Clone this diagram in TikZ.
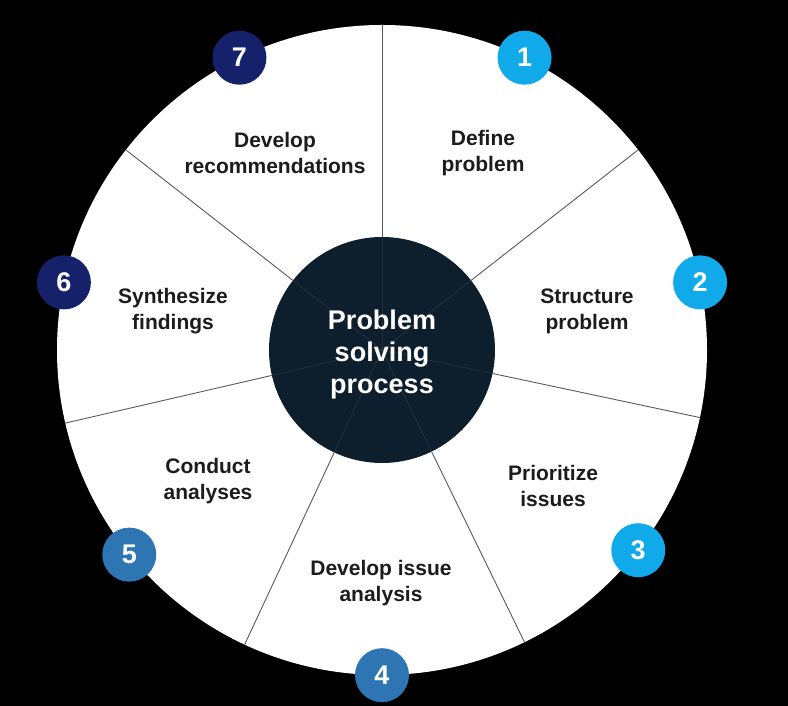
\documentclass[tikz,border=0pt]{standalone}
\usepackage{fontspec}
\setmainfont{Liberation Sans}
\usetikzlibrary{positioning}

\definecolor{hubnavy}{HTML}{0D1E2C}
\definecolor{spokegray}{HTML}{5A5A5A}
\definecolor{skyblue}{HTML}{10A9E9}
\definecolor{steelb}{HTML}{2E76B3}
\definecolor{navyb}{HTML}{15216B}
\definecolor{labelgray}{HTML}{1C1C1C}

\begin{document}
\begin{tikzpicture}[x=1pt,y=1pt,
    stage/.style={align=center,text=labelgray,font=\bfseries\fontsize{21}{26}\selectfont},
    badge/.style={circle,minimum size=54pt,inner sep=0pt,text=white,font=\bfseries\fontsize{27}{27}\selectfont},
    spoke/.style={draw=spokegray,line width=0.9pt}]
  % background and page size
  \fill[black] (0,0) rectangle (788,706);
  \useasboundingbox (0,0) rectangle (788,706);

  \coordinate (o) at (382,356);
  \node[circle,fill=white,minimum size=650pt,inner sep=0pt] (rim) at (o) {};
  \node[circle,fill=hubnavy,minimum size=226pt,inner sep=0pt] (hub) at (o) {};

  % sector borders, faint over the hub
  \foreach \k [evaluate=\k as \ang using 90-\k*360/7] in {0,...,6}{
    \draw[spoke] (hub.\ang) -- (rim.\ang);
    \draw[spoke,draw opacity=0.3] (o) -- (hub.\ang);
  }

  \node[align=center,text=white,font=\bfseries\fontsize{27}{32}\selectfont] (title) at (382,351) {Problem\\solving\\process};

  % steps
  \node[stage] (define)    at (483,553) {Define\\problem};
  \node[stage] (structure) at (587,395) {Structure\\problem};
  \node[stage] (prioritize) at (553,220) {Prioritize\\issues};
  \node[stage] (issue)     at (381,123) {Develop issue\\analysis};
  \node[stage] (conduct)   at (208,225) {Conduct\\analyses};
  \node[stage] (synth)     at (173,395) {Synthesize\\findings};
  \node[stage] (recommend) at (275,553) {Develop\\recommendations};

  % numbers on the rim
  \foreach \n/\col [evaluate=\n as \ang using 90-(\n-0.5)*360/7] in
      {1/skyblue,2/skyblue,3/skyblue,4/steelb,5/steelb,6/navyb,7/navyb}
    \node[badge,fill=\col] (b\n) at (rim.\ang) {\n};
\end{tikzpicture}
\end{document}
